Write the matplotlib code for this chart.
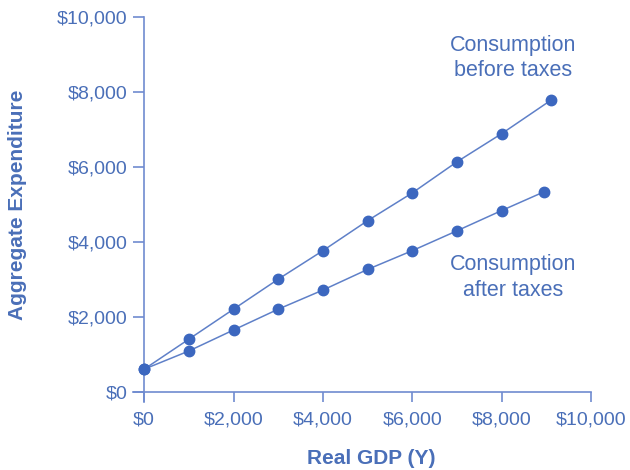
import matplotlib
matplotlib.use('Agg')
import matplotlib.pyplot as plt

# Data
gdp_before = [0, 1000, 2000, 3000, 4000, 5000, 6000, 7000, 8000, 9100]
cons_before = [600, 1400, 2200, 3000, 3760, 4560, 5300, 6130, 6880, 7770]

gdp_after = [0, 1000, 2000, 3000, 4000, 5000, 6000, 7000, 8000, 8950]
cons_after = [600, 1085, 1645, 2200, 2710, 3260, 3760, 4290, 4830, 5330]

ticks = [0, 2000, 4000, 6000, 8000, 10000]
tick_labels = ['$0', '$2,000', '$4,000', '$6,000', '$8,000', '$10,000']

TEXT = '#4a6fb8'
LINE = '#5f80c8'
DOT = '#3c67bf'
AXIS = '#6f8bd0'

plt.rcParams['font.family'] = ['Liberation Sans', 'DejaVu Sans']

fig = plt.figure(figsize=(6.3, 4.7), dpi=100)
ax = fig.add_axes([0.2111, 0.1451, 0.727, 0.8194])

ax.plot(gdp_before, cons_before, color=LINE, lw=1.1, marker='o',
        ms=7.5, mfc=DOT, mec=DOT, zorder=3, clip_on=False)
ax.plot(gdp_after, cons_after, color=LINE, lw=1.1, marker='o',
        ms=7.5, mfc=DOT, mec=DOT, zorder=3, clip_on=False)

ax.set_xlim(-250, 10000)
ax.set_ylim(-270, 10000)

for side in ['top', 'right']:
    ax.spines[side].set_visible(False)
for side in ['left', 'bottom']:
    ax.spines[side].set_position(('data', 0))
    ax.spines[side].set_color(AXIS)
    ax.spines[side].set_linewidth(1.2)

ax.set_xticks(ticks)
ax.set_xticklabels(tick_labels)
ax.set_yticks(ticks)
ax.set_yticklabels(tick_labels)
ax.tick_params(axis='x', direction='out', length=7.5, width=1.2, color=AXIS,
               labelcolor=TEXT, labelsize=14, pad=7)
ax.tick_params(axis='y', direction='out', length=8, width=1.2, color=AXIS,
               labelcolor=TEXT, labelsize=14, pad=4)

fig.text(371 / 630, 1 - 458 / 470, 'Real GDP (Y)', color=TEXT, fontsize=15,
         fontweight='bold', ha='center', va='center')
fig.text(18 / 630, 1 - 205 / 470, 'Aggregate Expenditure', color=TEXT,
         fontsize=15, fontweight='bold', ha='center', va='center',
         rotation=90)

ax.text(8250, 8900, 'Consumption\nbefore taxes', color=TEXT, fontsize=15.5,
        ha='center', va='center', linespacing=1.3)
ax.text(8250, 3045, 'Consumption\nafter taxes', color=TEXT, fontsize=15.5,
        ha='center', va='center', linespacing=1.3)

fig.savefig('out.png', dpi=100)
